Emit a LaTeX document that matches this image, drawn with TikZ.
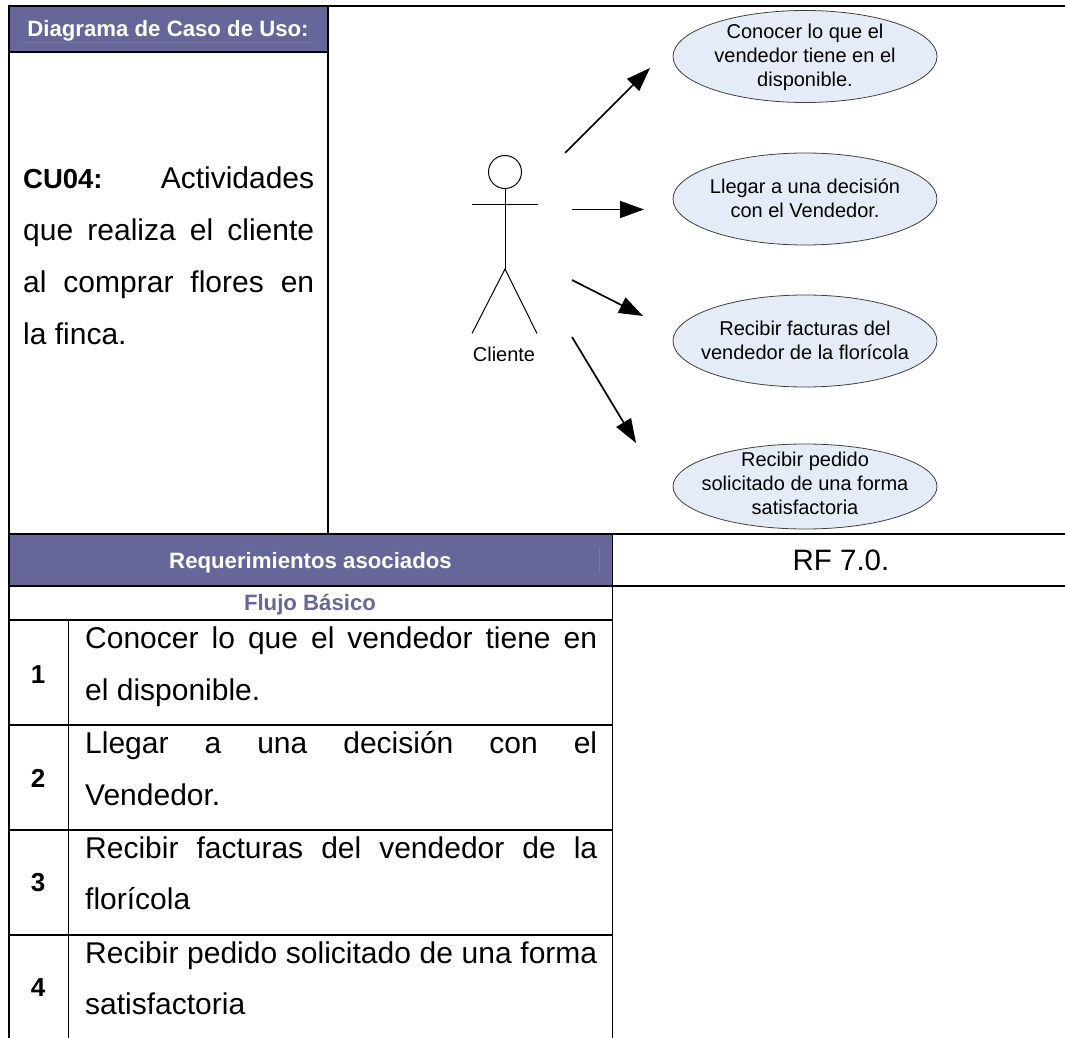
\documentclass[tikz,border=0pt]{standalone}
\usepackage{fontspec}
\setmainfont{Liberation Sans}
\usetikzlibrary{arrows.meta,shapes.geometric}
\definecolor{band}{HTML}{666699}
\definecolor{bandline}{HTML}{7777A6}
\definecolor{ucfill}{HTML}{E6ECF7}
\tikzset{
  rule/.style={draw=black,line width=2pt},
  thinrule/.style={draw=black,line width=1.4pt},
  bandfill/.style={fill=band,draw=none},
  head/.style={anchor=base,inner sep=0pt,text=white,font=\fontsize{22.2}{26}\selectfont\bfseries},
  flow/.style={anchor=base,inner sep=0pt,text=band,font=\fontsize{22.2}{26}\selectfont\bfseries},
  body/.style={anchor=base west,inner sep=0pt,font=\fontsize{30}{36}\selectfont},
  num/.style={anchor=center,inner sep=0pt,font=\fontsize{26}{32}\selectfont\bfseries},
  usecase/.style={ellipse,draw=black!75,line width=0.8pt,fill=ucfill,minimum width=264pt,minimum height=92pt,inner sep=0pt},
  uctext/.style={inner sep=0pt,align=center,font=\fontsize{20}{24}\selectfont},
  stick/.style={draw=black,line width=1pt},
  assoc/.style={draw=black,line width=1.7pt,-{Triangle[length=24pt,width=17pt]}}
}
\newcommand{\just}[2]{\hbox to #1pt{#2}}
\begin{document}
\begin{tikzpicture}[x=1pt,y=-1pt]
\useasboundingbox (0,0) rectangle (1065,1038);
% bands
\fill[bandfill] (9,6) rectangle (328,52);
\fill[bandfill] (9,533) rectangle (612,586);
\draw[bandline,line width=0.7pt] (23,42.5) -- (314,42.5);
\draw[bandline,line width=0.7pt] (599,547) -- (599,573);
% rules
\draw[thinrule] (8,6) -- (1065,6);
\draw[rule] (8.5,5) -- (8.5,1038);
\draw[rule] (8,52) -- (328,52);
\draw[rule] (328,6) -- (328,533);
\draw[rule] (8,533.5) -- (1065,533.5);
\draw[rule] (8,586) -- (1065,586);
\draw[thinrule] (612.5,533) -- (612.5,1038);
\draw[rule] (8,619.5) -- (612,619.5);
\draw[rule] (8,724.5) -- (612,724.5);
\draw[rule] (8,829.5) -- (612,829.5);
\draw[rule] (8,935) -- (612,935);
\draw[thinrule] (68.5,619) -- (68.5,1038);
% headers
\node[head] (hdiag) at (168,36.5) {Diagrama de Caso de Uso:};
\node[head] (hreq) at (310.5,568.5) {Requerimientos asociados};
\node[flow] (hflow) at (310,610.5) {Flujo Básico};
\node[anchor=base,inner sep=0pt,font=\fontsize{29.5}{36}\selectfont] (rf) at (841,570.5) {RF 7.0.};
% description
\node[body] (d1) at (23,188) {\just{291}{{\fontsize{27.5}{36}\selectfont\bfseries CU04:}\hfill Actividades}};
\node[body] (d2) at (23,240) {\just{291}{que realiza el cliente}};
\node[body] (d3) at (23,292) {\just{291}{al comprar flores en}};
\node[body] (d4) at (23,344) {la finca.};
% flow rows
\node[num] (n1) at (38,675) {1};
\node[body] (r1a) at (85,648) {\just{512}{Conocer lo que el vendedor tiene en}};
\node[body] (r1b) at (85,700) {el disponible.};
\node[num] (n2) at (38,778) {2};
\node[body] (r2a) at (85,753) {\just{512}{Llegar a una decisión con el}};
\node[body] (r2b) at (85,805) {Vendedor.};
\node[num] (n3) at (38,883) {3};
\node[body] (r3a) at (85,858) {\just{512}{Recibir facturas del vendedor de la}};
\node[body] (r3b) at (85,909) {florícola};
\node[num] (n4) at (38,988) {4};
\node[body] (r4a) at (85,963) {\just{512}{Recibir pedido solicitado de una forma}};
\node[body] (r4b) at (85,1014) {satisfactoria};
% use cases
\node[usecase] (uc1) at (805,56.5) {};
\node[uctext] (uc1t) at ([yshift=-1pt]uc1.center) {Conocer lo que el\\vendedor tiene en el\\disponible.};
\node[usecase] (uc2) at (805,199) {};
\node[uctext] (uc2t) at ([yshift=0.5pt]uc2.center) {Llegar a una decisión\\con el Vendedor.};
\node[usecase] (uc3) at (805,341) {};
\node[uctext] (uc3t) at ([yshift=1pt]uc3.center) {Recibir facturas del\\vendedor de la florícola};
\node[usecase,minimum height=85pt] (uc4) at (805,486.5) {};
\node[uctext] (uc4t) at ([yshift=3pt]uc4.center) {Recibir pedido\\solicitado de una forma\\satisfactoria};
% actor
\node[circle,stick,minimum size=33pt,inner sep=0pt] (ahead) at (505,172) {};
\coordinate (aneck) at (505,204);
\coordinate (aarmL) at (472,204);
\coordinate (aarmR) at (538,204);
\coordinate (ahip) at (505,269);
\coordinate (alegL) at (472,333.5);
\coordinate (alegR) at (537,333.5);
\draw[stick] (ahead.south) -- (ahip);
\draw[stick] (aarmL) -- (aarmR);
\draw[stick] (alegL) -- (ahip) -- (alegR);
\node[anchor=base,inner sep=0pt,font=\fontsize{20}{24}\selectfont] (actor) at (504,361) {Cliente};
% associations
\coordinate (a1s) at (565,153); \coordinate (a1e) at (650,68);
\coordinate (a2s) at (572,209.5); \coordinate (a2e) at (644,209.5);
\coordinate (a3s) at (572,280); \coordinate (a3e) at (643,316);
\coordinate (a4s) at (572,337); \coordinate (a4e) at (636,443);
\draw[assoc] (a1s) -- (a1e);
\draw[assoc] (a2s) -- (a2e);
\draw[assoc] (a3s) -- (a3e);
\draw[assoc] (a4s) -- (a4e);
\end{tikzpicture}
\end{document}
